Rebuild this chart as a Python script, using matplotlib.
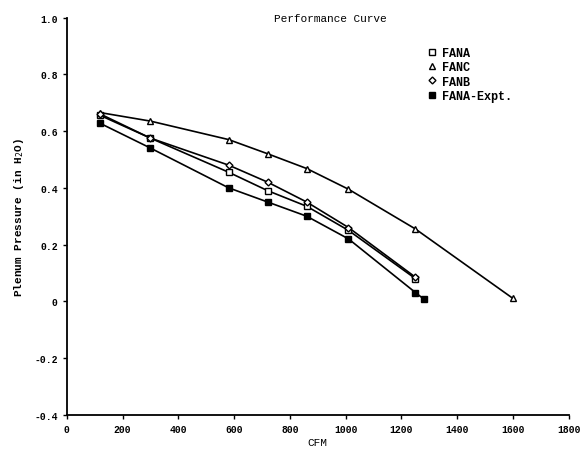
import matplotlib
matplotlib.use("Agg")
import matplotlib.pyplot as plt
from matplotlib.ticker import FixedLocator

cfm = [120, 300, 580, 720, 860, 1010, 1250]
fana = [0.655, 0.575, 0.455, 0.39, 0.335, 0.25, 0.08]
fanb = [0.66, 0.575, 0.48, 0.42, 0.35, 0.26, 0.085]
fanc_cfm = [120, 300, 580, 720, 860, 1010, 1250, 1600]
fanc = [0.665, 0.635, 0.57, 0.52, 0.468, 0.395, 0.255, 0.01]
expt_cfm = [120, 300, 580, 720, 860, 1010, 1250, 1280]
expt = [0.627, 0.54, 0.40, 0.35, 0.30, 0.22, 0.031, 0.008]

xticks = [0, 200, 400, 600, 800, 1000, 1200, 1400, 1600, 1800]
yticks = [-0.4, -0.2, 0, 0.2, 0.4, 0.6, 0.8, 1.0]
ylabels = ["-0.4", "-0.2", "0", "0.2", "0.4", "0.6", "0.8", "1.0"]

plt.rcParams['font.family'] = ['Liberation Mono', 'DejaVu Sans Mono']

fig = plt.figure(figsize=(5.81, 4.52), dpi=100)
ax = fig.add_axes([0.115, 0.080, 0.864, 0.879])

ms = 4.3
ax.plot(cfm, fana, color='black', lw=1.2, marker='s', ms=ms, mfc='white', mec='black', label='FANA')
ax.plot(fanc_cfm, fanc, color='black', lw=1.2, marker='^', ms=ms, mfc='white', mec='black', label='FANC')
ax.plot(cfm, fanb, color='black', lw=1.2, marker='D', ms=3.5, mfc='white', mec='black', label='FANB')
ax.plot(expt_cfm, expt, color='black', lw=1.2, marker='s', ms=ms, mfc='black', mec='black', label='FANA-Expt.')

ax.set_xlim(0, 1800)
ax.set_ylim(-0.4, 1.0)
ax.xaxis.set_major_locator(FixedLocator(xticks))
ax.set_yticks(yticks)
ax.set_yticklabels(ylabels)

for s in ['top', 'right']:
    ax.spines[s].set_visible(False)
for s in ['left', 'bottom']:
    ax.spines[s].set_linewidth(1.3)
ax.tick_params(labelsize=7, length=3, width=1)
for lbl in ax.get_xticklabels() + ax.get_yticklabels():
    lbl.set_fontweight('bold')

ax.set_xlabel('CFM', fontsize=8, labelpad=2)
ax.set_ylabel('Plenum Pressure (in H$_2$O)', fontsize=8, fontweight='bold', labelpad=6)

fig.text(330 / 581, 1 - 19 / 452, 'Performance Curve', fontsize=8, ha='center', va='center')

leg = ax.legend(loc='upper left', bbox_to_anchor=(0.708, 0.938), frameon=False,
                prop={'size': 8.5, 'weight': 'bold'}, handlelength=0.8, handletextpad=0.5,
                labelspacing=0.2, borderaxespad=0)
for h in leg.legend_handles:
    h.set_linestyle('')

fig.savefig('out.png', dpi=100)
